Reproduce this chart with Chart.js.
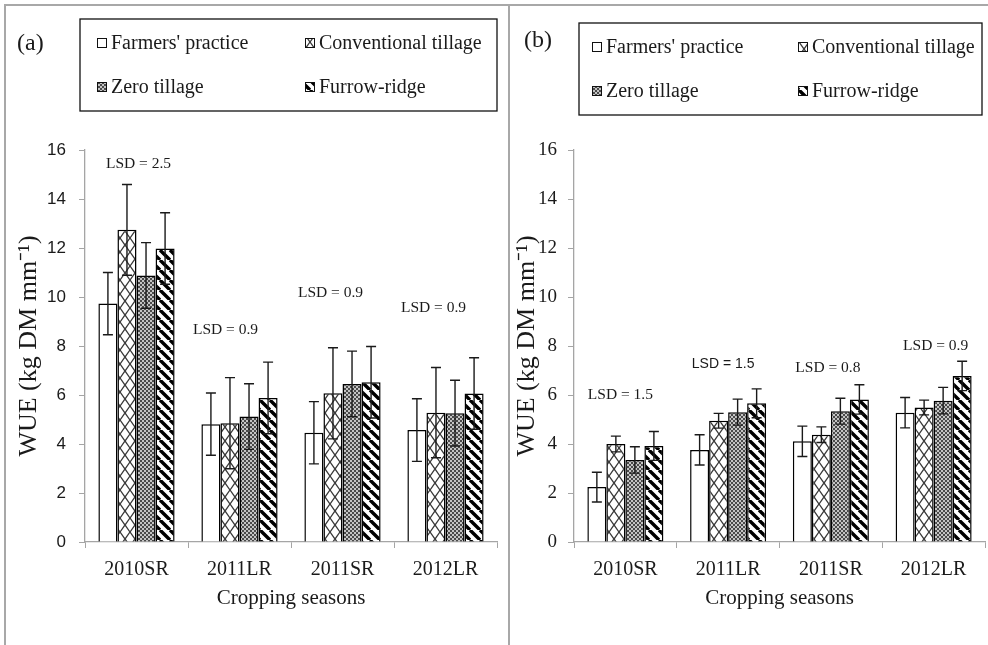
<!DOCTYPE html>
<html>
<head>
<meta charset="utf-8">
<script src="https://cdn.jsdelivr.net/npm/chart.js@4.4.1/dist/chart.umd.min.js"></script>
<style>
  body { margin: 0; background: #fff; }
  #wrap { position: relative; width: 988px; height: 645px; overflow: hidden; background: #fff; }
  canvas { position: absolute; top: 0; }
  #ca { left: 0; }
  #cb { left: 509px; }
  .ln { position: absolute; background: #a8a8a8; }
</style>
</head>
<body>
<div id="wrap">
  <canvas id="ca" width="509" height="645"></canvas>
  <canvas id="cb" width="479" height="645"></canvas>
  <div class="ln" style="left:4px;top:4px;width:984px;height:1.5px"></div>
  <div class="ln" style="left:4px;top:4px;width:1.5px;height:641px"></div>
  <div class="ln" style="left:508px;top:4px;width:2px;height:641px"></div>
</div>
<script>
// categories / series
const seasons = ['2010SR', '2011LR', '2011SR', '2012LR'];
const treatments = ["Farmers' practice", 'Conventional tillage', 'Zero tillage', 'Furrow-ridge'];
const yTicks = [0, 2, 4, 6, 8, 10, 12, 14, 16];

// panel (a)
const fpA = [9.73, 4.81, 4.46, 4.57];
const ctA = [12.74, 4.85, 6.07, 5.28];
const ztA = [10.88, 5.12, 6.45, 5.26];
const frA = [11.98, 5.88, 6.52, 6.06];
const fpErrA = [1.27, 1.27, 1.27, 1.28];
const ctErrA = [1.85, 1.86, 1.86, 1.84];
const ztErrA = [1.34, 1.34, 1.34, 1.34];
const frErrA = [1.46, 1.46, 1.46, 1.46];
const lsdA = ['LSD = 2.5', 'LSD = 0.9', 'LSD = 0.9', 'LSD = 0.9'];

// panel (b)
const fpB = [2.24, 3.76, 4.11, 5.28];
const ctB = [4.00, 4.95, 4.38, 5.49];
const ztB = [3.35, 5.30, 5.34, 5.77];
const frB = [3.92, 5.66, 5.82, 6.78];
const fpErrB = [0.61, 0.62, 0.62, 0.62];
const ctErrB = [0.32, 0.30, 0.32, 0.30];
const ztErrB = [0.54, 0.53, 0.53, 0.54];
const frErrB = [0.59, 0.59, 0.60, 0.60];
const lsdB = ['LSD = 1.5', 'LSD = 1.5', 'LSD = 0.8', 'LSD = 0.9'];

const serif = "'Liberation Serif', 'Times New Roman', serif";
const sans = "'Liberation Sans', Arial, sans-serif";
const ink = '#1a1a1a';
const axisGray = '#a5a5a5';

function tile(ctx, w, h, draw) {
  const c = document.createElement('canvas');
  c.width = w; c.height = h;
  const g = c.getContext('2d');
  g.fillStyle = '#fff';
  g.fillRect(0, 0, w, h);
  draw(g);
  return ctx.createPattern(c, 'repeat');
}

function patterns(ctx) {
  const white = '#fff';
  const lattice = tile(ctx, 10, 14, g => {
    g.strokeStyle = '#3a3a3a'; g.lineWidth = 1.3;
    g.beginPath();
    g.moveTo(0, 0); g.lineTo(5, 7); g.lineTo(0, 14);
    g.moveTo(10, 0); g.lineTo(5, 7); g.lineTo(10, 14);
    g.stroke();
  });
  const checker = tile(ctx, 4, 4, g => {
    g.fillStyle = '#c4c4c4'; g.fillRect(0, 0, 4, 4);
    g.fillStyle = '#4a4a4a'; g.fillRect(0, 0, 2, 2); g.fillRect(2, 2, 2, 2);
  });
  const stripes = tile(ctx, 10, 10, g => {
    g.strokeStyle = '#000'; g.lineWidth = 3.4;
    g.beginPath();
    for (const o of [-10, 0, 10]) { g.moveTo(o, 0); g.lineTo(o + 10, 10); }
    g.stroke();
  });
  return [white, lattice, checker, stripes];
}

const decor = {
  id: 'decor',
  afterDatasetsDraw(chart, args, o) {
    const ctx = chart.ctx, x = chart.scales.x, y = chart.scales.y;
    ctx.save();
    // error bars
    ctx.strokeStyle = ink; ctx.lineWidth = 1.4;
    chart.data.datasets.forEach((ds, i) => {
      chart.getDatasetMeta(i).data.forEach((bar, j) => {
        const top = y.getPixelForValue(ds.data[j] + ds.errors[j]);
        const bot = y.getPixelForValue(ds.data[j] - ds.errors[j]);
        ctx.beginPath();
        ctx.moveTo(bar.x, top); ctx.lineTo(bar.x, bot);
        ctx.moveTo(bar.x - 5, top); ctx.lineTo(bar.x + 5, top);
        ctx.moveTo(bar.x - 5, bot); ctx.lineTo(bar.x + 5, bot);
        ctx.stroke();
      });
    });
    // LSD notes
    ctx.fillStyle = ink; ctx.textAlign = 'center'; ctx.textBaseline = 'middle';
    o.lsd.forEach((t, j) => {
      ctx.font = o.lsdFont[j];
      ctx.fillText(t, x.getPixelForValue(j) + o.lsdShift[j], y.getPixelForValue(o.lsdAt[j]));
    });
    ctx.restore();
  },
  afterDraw(chart, args, o) {
    const ctx = chart.ctx, b = o.box;
    ctx.save();
    ctx.fillStyle = ink; ctx.textBaseline = 'middle'; ctx.textAlign = 'left';
    ctx.font = '24px ' + serif;
    ctx.fillText(o.tag, o.tagX, o.tagY);
    // legend box
    ctx.strokeStyle = '#111'; ctx.lineWidth = 1.3;
    ctx.strokeRect(b.x, b.y, b.w, b.h);
    ctx.font = '20px ' + serif;
    chart.data.datasets.forEach((ds, i) => {
      const mx = b.x + b.cols[i % 2];
      const my = b.y + (i < 2 ? 24 : 68);
      ctx.fillStyle = ds.backgroundColor;
      ctx.fillRect(mx, my - 5, 10, 10);
      ctx.lineWidth = 1; ctx.strokeStyle = '#111';
      ctx.strokeRect(mx + 0.5, my - 4.5, 9, 9);
      ctx.fillStyle = ink;
      ctx.fillText(ds.label, mx + 14, my + 1);
    });
    ctx.restore();
  }
};

function makeChart(id, vals, errs, lsd, cfg) {
  const canvas = document.getElementById(id);
  const fills = patterns(canvas.getContext('2d'));
  return new Chart(canvas, {
    type: 'bar',
    data: {
      labels: seasons,
      datasets: treatments.map((t, i) => ({
        label: t,
        data: vals[i],
        errors: errs[i],
        backgroundColor: fills[i],
        borderColor: '#000',
        borderWidth: 1.5,
        categoryPercentage: 0.74,
        barPercentage: 1.0
      }))
    },
    options: {
      responsive: false,
      animation: false,
      devicePixelRatio: 1,
      layout: { padding: { left: 0, right: cfg.padRight, top: 150, bottom: 0 } },
      plugins: {
        legend: { display: false },
        tooltip: { enabled: false },
        decor: cfg.decor
      },
      scales: {
        x: {
          grid: { drawOnChartArea: false, tickLength: 6, color: axisGray, offset: true },
          border: { color: axisGray, width: 1.3 },
          ticks: { color: ink, font: { family: serif, size: 20 }, padding: 10 },
          title: {
            display: true, text: 'Cropping seasons', color: ink,
            font: { family: serif, size: 21 }, padding: { top: 0, bottom: 34 }
          },
          afterFit: s => { s.height = 103; }
        },
        y: {
          min: yTicks[0], max: yTicks[yTicks.length - 1],
          afterBuildTicks: s => { s.ticks = yTicks.map(v => ({ value: v })); },
          grid: { drawOnChartArea: false, tickLength: 6, color: axisGray },
          border: { color: axisGray, width: 1.3 },
          ticks: { color: ink, font: cfg.yFont, padding: cfg.yPad },
          title: {
            display: true, text: 'WUE (kg DM mm\u207B\u00B9)', color: ink,
            font: { family: serif, size: 26 }, padding: { top: cfg.titlePad, bottom: 0 }
          },
          afterFit: s => { s.width = cfg.yWidth; }
        }
      }
    },
    plugins: [decor]
  });
}

makeChart('ca', [fpA, ctA, ztA, frA], [fpErrA, ctErrA, ztErrA, frErrA], lsdA, {
  padRight: 12, yWidth: 85, yPad: 13, titlePad: 14,
  yFont: { family: sans, size: 17 },
  decor: {
    tag: '(a)', tagX: 17, tagY: 44,
    box: { x: 80, y: 19, w: 417, h: 92, cols: [17, 225] },
    lsd: lsdA,
    lsdAt: [15.45, 8.65, 10.15, 9.55],
    lsdShift: [2, -14, -12, -12],
    lsdFont: ['15.5px ' + serif, '15.5px ' + serif, '15.5px ' + serif, '15.5px ' + serif]
  }
});

makeChart('cb', [fpB, ctB, ztB, frB], [fpErrB, ctErrB, ztErrB, frErrB], lsdB, {
  padRight: 3, yWidth: 65, yPad: 11, titlePad: 3,
  yFont: { family: serif, size: 19 },
  decor: {
    tag: '(b)', tagX: 15, tagY: 41,
    box: { x: 70, y: 23, w: 403, h: 92, cols: [13, 219] },
    lsd: lsdB,
    lsdAt: [6.0, 7.25, 7.1, 8.0],
    lsdShift: [-5, -5, -3, 2],
    lsdFont: ['15.5px ' + serif, '14px ' + sans, '15.5px ' + serif, '15.5px ' + serif]
  }
});
</script>
</body>
</html>
